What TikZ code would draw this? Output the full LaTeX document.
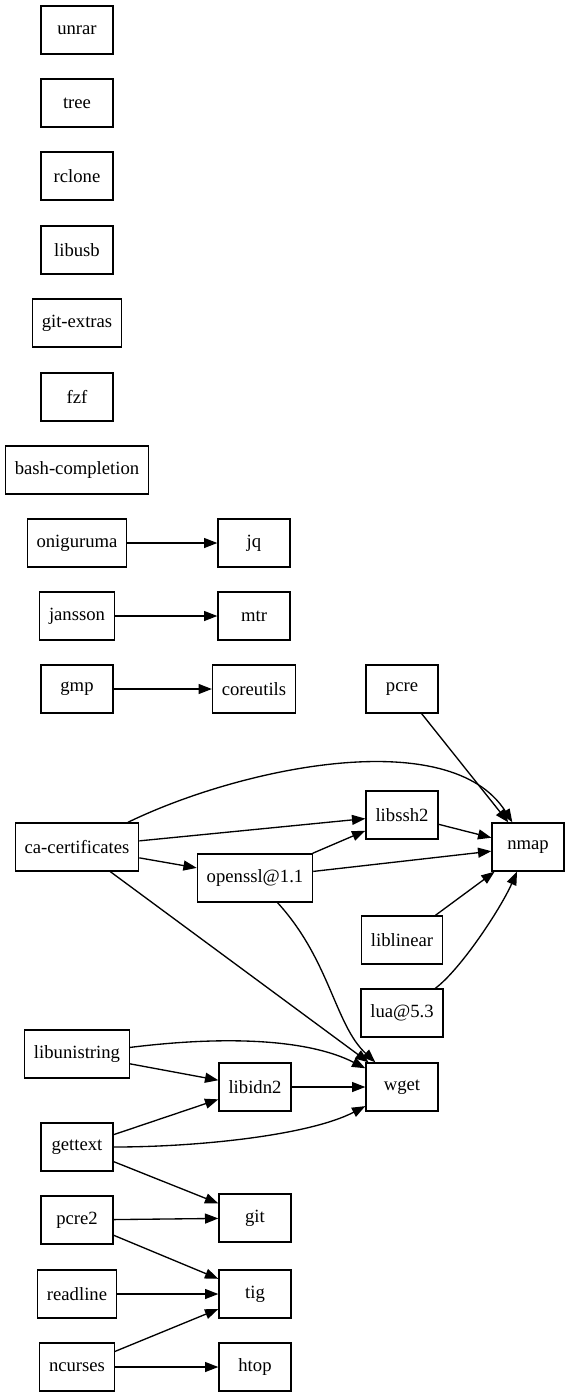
\documentclass[tikz,border=0pt]{standalone}
\usepackage{fontspec}
\setmainfont{Liberation Serif}
\usetikzlibrary{arrows.meta}

\begin{document}
\begin{tikzpicture}[x=0.75pt, y=-0.75pt, ->, >={Triangle[length=10pt, width=7.5pt]}, line width=1pt]

\tikzstyle{every node}=[rectangle, draw, fill=white, minimum width=54pt, minimum height=36pt, inner xsep=7pt, font=\fontsize{14}{16}\selectfont]
\useasboundingbox (0,0) rectangle (569,1397);

\draw    (77,  30)   node (unrar) {unrar}
         (77,  103)  node (tree) {tree}
         (77,  176)  node (rclone) {rclone}
         (77,  250)  node (libusb) {libusb}
         (77,  323)  node (gitextras) {git-extras}
         (77,  397)  node (fzf) {fzf}
         (77,  470)  node (bashcomp) {bash-completion}
         (77,  543)  node (onig) {oniguruma}
         (254, 543)  node (jq) {jq}
         (77,  616)  node (jansson) {jansson}
         (254, 616)  node (mtr) {mtr}
         (77,  689)  node (gmp) {gmp}
         (254, 689)  node (coreutils) {coreutils}
         (402, 689)  node (pcre) {pcre}
         (402, 815)  node (libssh2) {libssh2}
         (77,  847)  node (cacert) {ca-certificates}
         (528, 847)  node (nmap) {nmap}
         (255, 878)  node (openssl) {openssl@1.1}
         (402, 940)  node (liblinear) {liblinear}
         (402, 1013) node (lua) {lua@5.3}
         (77,  1054) node (libunistring) {libunistring}
         (255, 1087) node (libidn2) {libidn2}
         (402, 1087) node (wget) {wget}
         (77,  1147) node (gettext) {gettext}
         (255, 1218) node (git) {git}
         (77,  1220) node (pcre2) {pcre2}
         (77,  1294) node (readline) {readline}
         (255, 1294) node (tig) {tig}
         (77,  1367) node (ncurses) {ncurses}
         (255, 1367) node (htop) {htop};

\draw (onig) -- (jq);
\draw (jansson) -- (mtr);
\draw (gmp) -- (coreutils);

\draw (pcre) -- (nmap);
\draw (cacert) .. controls (242,767) and (450,724) .. (nmap);
\draw (cacert) -- (libssh2);
\draw (cacert) -- (openssl);
\draw (cacert) -- (wget);
\draw (openssl) -- (libssh2);
\draw (openssl) -- (nmap);
\draw (libssh2) -- (nmap);
\draw (openssl) .. controls (330,960) and (335,1025) .. (wget);
\draw (liblinear) -- (nmap);
\draw (lua) .. controls (460,970) and (500,910) .. (nmap);

\draw (libunistring) .. controls (230,1035) and (310,1040) .. (wget);
\draw (libunistring) -- (libidn2);
\draw (libidn2) -- (wget);
\draw (gettext) -- (libidn2);
\draw (gettext) .. controls (200,1147) and (310,1135) .. (wget);
\draw (gettext) -- (git);
\draw (pcre2) -- (git);
\draw (pcre2) -- (tig);
\draw (readline) -- (tig);
\draw (ncurses) -- (tig);
\draw (ncurses) -- (htop);

\end{tikzpicture}
\end{document}
